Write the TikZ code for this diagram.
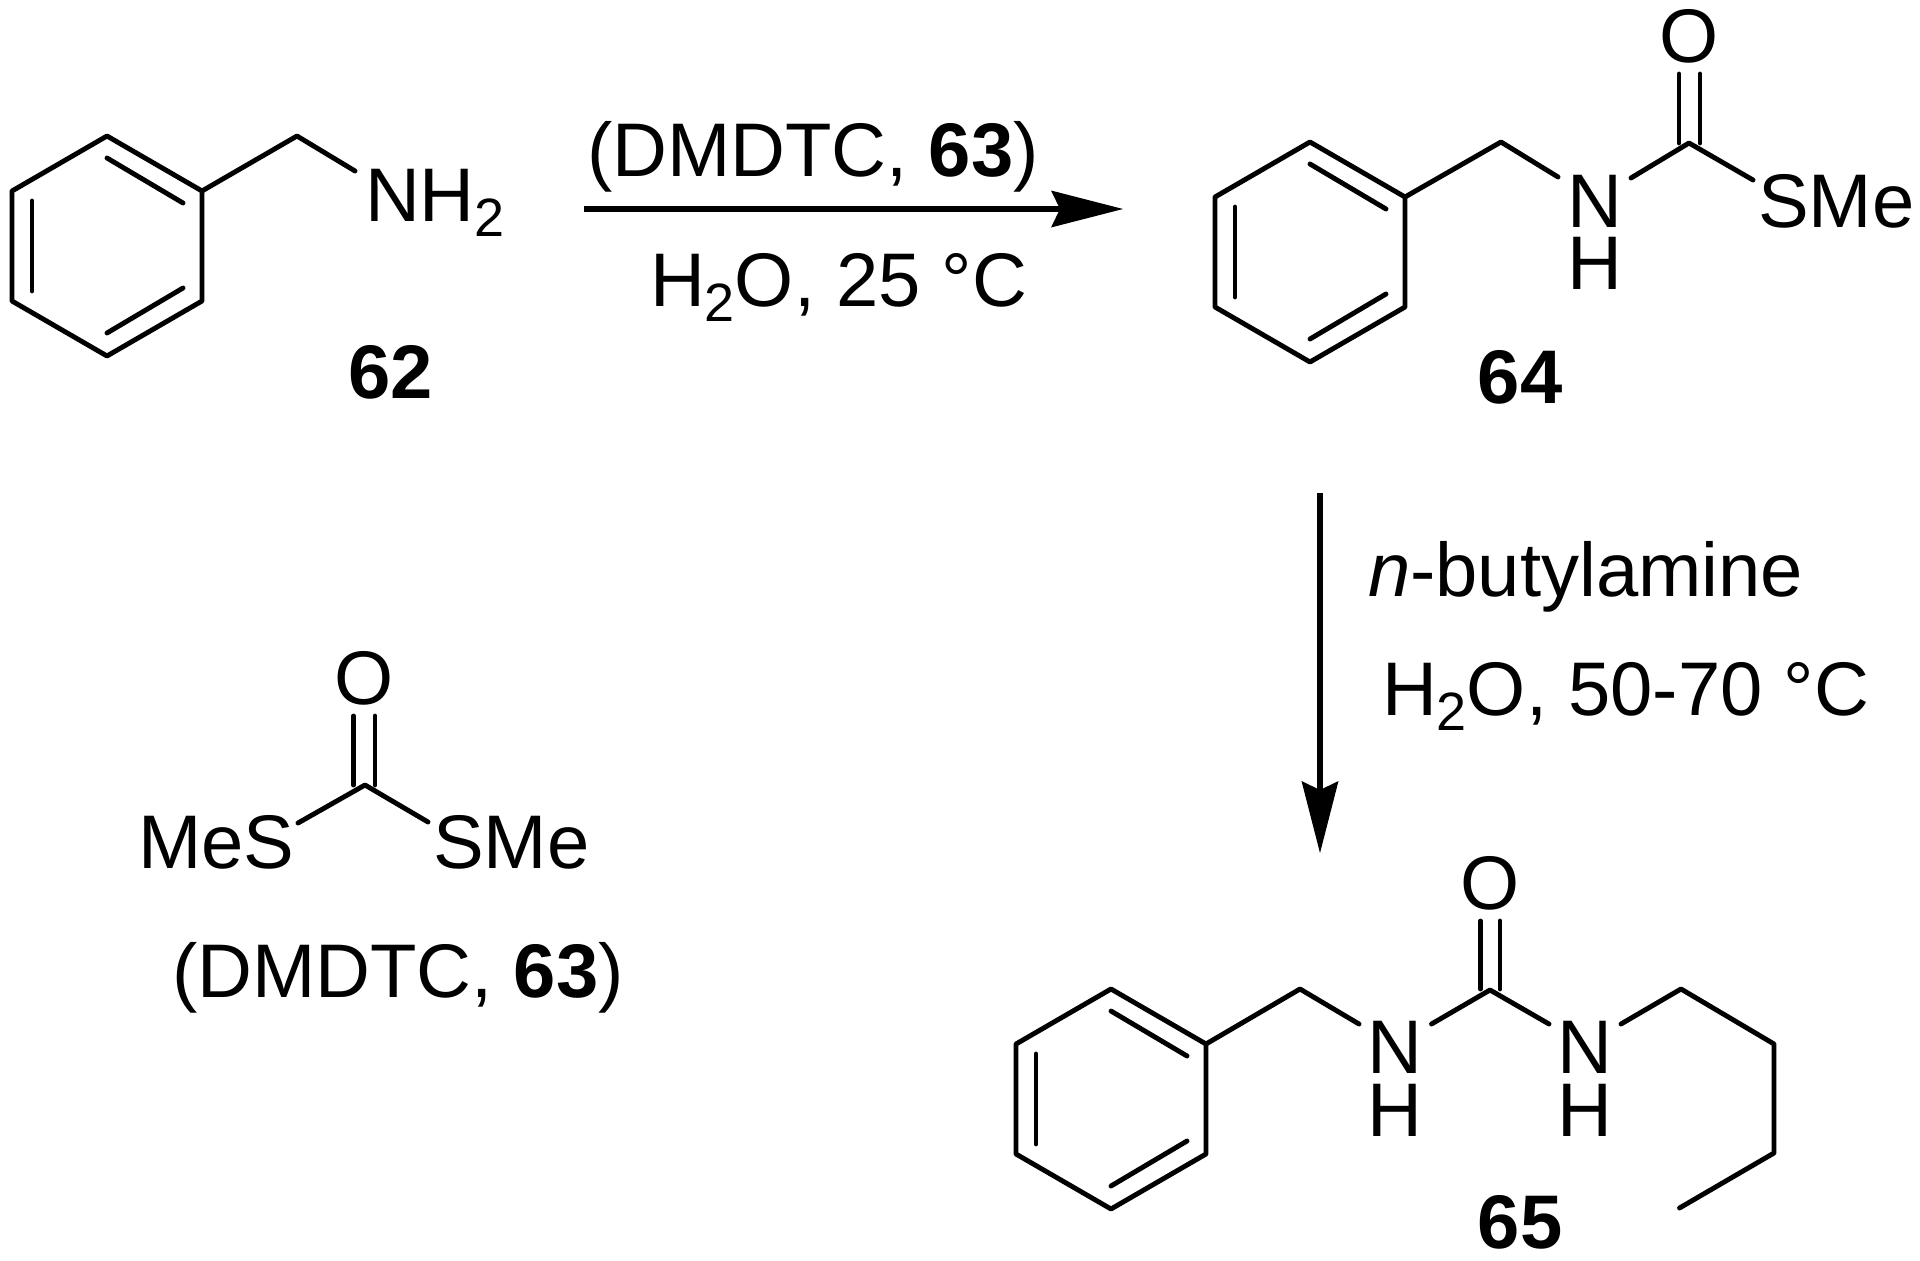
\documentclass[tikz,border=0pt]{standalone}
\usepackage{fontspec}
\setmainfont{Liberation Sans}
\usetikzlibrary{arrows.meta}
\newcommand{\lowtwo}{\raisebox{-15pt}{\fontsize{54}{54}\selectfont 2}}
\tikzset{
  x=1pt,y=-1pt,
  bond/.style={line width=4.9pt,line cap=round,line join=round,black},
  rxnarrow/.style={line width=5.6pt,black,-{Stealth[length=72pt,width=37pt,inset=9pt,line width=0pt]}},
  lbl/.style={inner sep=0pt,outer sep=0pt,anchor=base,font=\fontsize{76}{80}\selectfont,text=black},
  lblw/.style={lbl,anchor=base west},
  lblb/.style={lbl,font=\fontsize{76}{80}\selectfont\bfseries},
}
\newcommand{\ringbonds}[3]{%
  % #1 centre x, #2 top y (hexagon with half-width 95, top slant 55, side 110), #3 name prefix
  \coordinate (#3a) at (#1,#2);
  \coordinate (#3b) at (#1+95,#2+55);
  \coordinate (#3c) at (#1+95,#2+165);
  \coordinate (#3d) at (#1,#2+220);
  \coordinate (#3e) at (#1-95,#2+165);
  \coordinate (#3f) at (#1-95,#2+55);
  \draw[bond] (#3a) -- (#3b) -- (#3c) -- (#3d) -- (#3e) -- (#3f) -- cycle;
  \coordinate (#3i1) at (#1,#2+22);
  \coordinate (#3i2) at (#1+76,#2+67);
  \coordinate (#3i3) at (#1+76,#2+152);
  \coordinate (#3i4) at (#1,#2+197);
  \coordinate (#3i5) at (#1-75,#2+65);
  \coordinate (#3i6) at (#1-75,#2+155);
  \draw[bond] (#3i1) -- (#3i2);
  \draw[bond] (#3i3) -- (#3i4);
  \draw[bond] (#3i5) -- (#3i6);
}
\begin{document}
\begin{tikzpicture}
\useasboundingbox (0,0) rectangle (1920,1261);

% --- 62 ---
\ringbonds{107}{136}{A}
\coordinate (Ac) at (297,136);
\coordinate (An) at (355,171);
\draw[bond] (Ab) -- (Ac) -- (An);
\node[lblw] (nh2) at (365,221) {NH\lowtwo};
\node[lblb] (l62) at (391,398) {62};

% --- arrow 1 ---
\coordinate (a1s) at (584,209);
\coordinate (a1e) at (1123,209);
\draw[rxnarrow] (a1s) -- (a1e);
\node[lblw] (c1) at (587,176) {(DMDTC, \textbf{63})};
\node[lblw] (c2) at (650,306) {H\lowtwo O, 25 °C};

% --- 64 ---
\ringbonds{1310}{142}{B}
\coordinate (Bc) at (1501,142);
\coordinate (Bn) at (1558,177);
\draw[bond] (Bb) -- (Bc) -- (Bn);
\coordinate (Bk) at (1689,143);
\coordinate (Bn2) at (1631,178);
\coordinate (Bs) at (1753,180);
\draw[bond] (Bn2) -- (Bk) -- (Bs);
\coordinate (Bo1) at (1679,74);
\coordinate (Bo1b) at (1679,143);
\coordinate (Bo2) at (1700,74);
\coordinate (Bo2b) at (1700,143);
\draw[bond] (Bo1) -- (Bo1b);
\draw[bond] (Bo2) -- (Bo2b);
\node[lbl] (o64) at (1689,62) {O};
\node[lbl] (n64) at (1594.5,227) {N};
\node[lbl] (h64) at (1594.5,289) {H};
\node[lblw] (sme64) at (1758,227) {SMe};
\node[lblb] (l64) at (1520,403) {64};

% --- arrow 2 ---
\coordinate (a2s) at (1320,493);
\coordinate (a2e) at (1320,853);
\draw[rxnarrow] (a2s) -- (a2e);
\node[lblw] (c3) at (1368,596) {\textit{n}-butylamine};
\node[lblw] (c4) at (1382,715) {H\lowtwo O, 50-70 °C};

% --- 63 ---
\coordinate (Ck) at (365,785);
\coordinate (Cl) at (298,823);
\coordinate (Cr) at (428,822);
\draw[bond] (Cl) -- (Ck) -- (Cr);
\coordinate (Co1) at (353.5,716);
\coordinate (Co1b) at (353.5,785);
\coordinate (Co2) at (375,716);
\coordinate (Co2b) at (375,785);
\draw[bond] (Co1) -- (Co1b);
\draw[bond] (Co2) -- (Co2b);
\node[lbl] (o63) at (364,704) {O};
\node[lblw] (mes) at (138,868) {MeS};
\node[lblw] (sme63) at (433,868) {SMe};
\node[lblw] (c5) at (172,997) {(DMDTC, \textbf{63})};

% --- 65 ---
\ringbonds{1111}{989}{D}
\coordinate (Dc) at (1300,989);
\coordinate (Dn) at (1359,1024);
\draw[bond] (Db) -- (Dc) -- (Dn);
\coordinate (Dk) at (1490,990);
\coordinate (Dn2) at (1431.5,1024);
\coordinate (Dn3) at (1549,1024);
\draw[bond] (Dn2) -- (Dk) -- (Dn3);
\coordinate (Dn4) at (1621,1024);
\coordinate (Dc1) at (1681,989);
\coordinate (Dc2) at (1774,1044);
\coordinate (Dc3) at (1774,1153);
\coordinate (Dc4) at (1679.5,1208);
\draw[bond] (Dn4) -- (Dc1) -- (Dc2) -- (Dc3) -- (Dc4);
\coordinate (Do1) at (1480.5,921);
\coordinate (Do1b) at (1480.5,989);
\coordinate (Do2) at (1500,921);
\coordinate (Do2b) at (1500,989);
\draw[bond] (Do1) -- (Do1b);
\draw[bond] (Do2) -- (Do2b);
\node[lbl] (o65) at (1490,909) {O};
\node[lbl] (n65a) at (1394.5,1073) {N};
\node[lbl] (h65a) at (1394.5,1136) {H};
\node[lbl] (n65b) at (1584.5,1073) {N};
\node[lbl] (h65b) at (1584.5,1136) {H};
\node[lblb] (l65) at (1520,1248) {65};
\end{tikzpicture}
\end{document}
